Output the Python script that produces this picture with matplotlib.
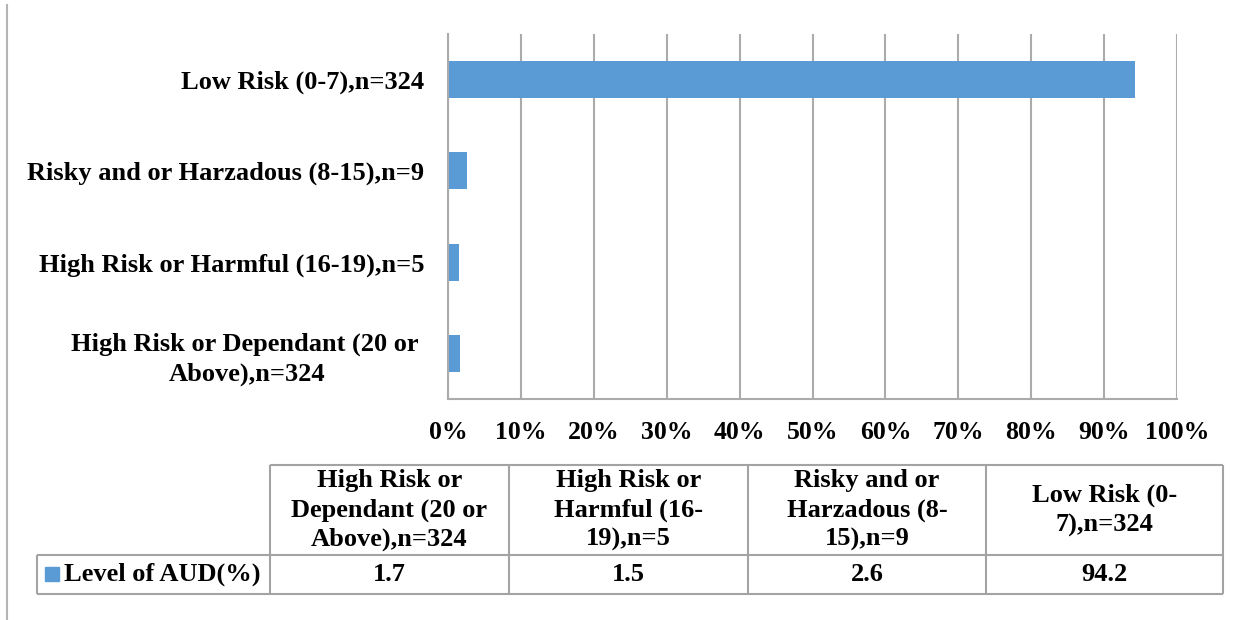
import matplotlib
matplotlib.use("Agg")
import matplotlib.pyplot as plt
from matplotlib.lines import Line2D
from matplotlib.patches import Rectangle

plt.rcParams['font.family'] = ['Liberation Serif', 'DejaVu Serif']
plt.rcParams['font.weight'] = 'bold'

# AUDIT risk levels, listed bottom-to-top as they appear on the chart
axis_labels = [
    "High Risk or Dependant (20 or \nAbove),n=324",
    "High Risk or Harmful (16-19),n=5",
    "Risky and or Harzadous (8-15),n=9",
    "Low Risk (0-7),n=324",
]
table_headers = [
    "High Risk or\nDependant (20 or\nAbove),n=324",
    "High Risk or\nHarmful (16-\n19),n=5",
    "Risky and or\nHarzadous (8-\n15),n=9",
    "Low Risk (0-\n7),n=324",
]
aud_values = [1.7, 1.5, 2.6, 94.2]
series_name = "Level of AUD(%)"
x_ticks = [0, 10, 20, 30, 40, 50, 60, 70, 80, 90, 100]
x_tick_labels = [f"{t}%" for t in x_ticks]

BAR = "#5B9BD5"
GRID = "#ABABAB"
BORDER = "#A3A3A3"
FS = 19

W, H = 1250, 620
fig = plt.figure(figsize=(W / 100, H / 100), dpi=100)

# --- bar chart ---
left, right, top, bottom = 448, 1177, 34, 399
ax = fig.add_axes([left / W, 1 - bottom / H, (right - left) / W, (bottom - top) / H])
ypos = list(range(len(aud_values)))
ax.barh(ypos, aud_values, height=0.405, color=BAR, zorder=3)
ax.set_xlim(0, 100)
ax.set_ylim(-0.5, len(aud_values) - 0.5)
ax.set_xticks(x_ticks)
ax.set_xticklabels(x_tick_labels, fontsize=18.5, fontweight='bold')
ax.set_yticks(ypos)
ax.set_yticklabels(axis_labels, fontsize=FS, fontweight='bold',
                   multialignment='center', linespacing=1.35)
ax.tick_params(axis='x', length=0, pad=16)
ax.tick_params(axis='y', length=0, pad=17)
ax.grid(axis='x', color=GRID, linewidth=1.5, zorder=0)
for s in ('top', 'right'):
    ax.spines[s].set_visible(False)
for s in ('left', 'bottom'):
    ax.spines[s].set_color(GRID)
    ax.spines[s].set_linewidth(1.5)
    ax.spines[s].set_zorder(4)

# --- data table (pixel coordinates) ---
ov = fig.add_axes([0, 0, 1, 1])
ov.set_xlim(0, W)
ov.set_ylim(H, 0)
ov.axis('off')

# frame on the left edge of the figure
ov.add_line(Line2D([7, 7], [5, 620], color="#B4B4B4", linewidth=1.5))

col_edges = [270, 509, 748, 986, 1223]
t_left = 37
head_top, row_top, row_bot = 465, 555, 594

def seg(xs, ys):
    ov.add_line(Line2D(xs, ys, color=BORDER, linewidth=1.5, solid_capstyle='butt'))

seg([col_edges[0], col_edges[-1]], [head_top, head_top])
seg([t_left, col_edges[-1]], [row_top, row_top])
seg([t_left, col_edges[-1]], [row_bot, row_bot])
seg([t_left, t_left], [row_top, row_bot])
for xe in col_edges:
    seg([xe, xe], [head_top, row_bot])

for i, (hdr, val) in enumerate(zip(table_headers, aud_values)):
    cx = (col_edges[i] + col_edges[i + 1]) / 2
    ov.text(cx, (head_top + row_top) / 2, hdr, ha='center', va='center',
            multialignment='center', fontsize=FS, fontweight='bold', linespacing=1.35)
    ov.text(cx, (row_top + row_bot) / 2, f"{val}", ha='center', va='center',
            fontsize=FS, fontweight='bold')

# series key in the row header
ov.add_patch(Rectangle((45, 567), 14, 14, color=BAR))
ov.text(64, (row_top + row_bot) / 2, series_name, ha='left', va='center',
        fontsize=FS, fontweight='bold')

fig.savefig("out.png", dpi=100)
